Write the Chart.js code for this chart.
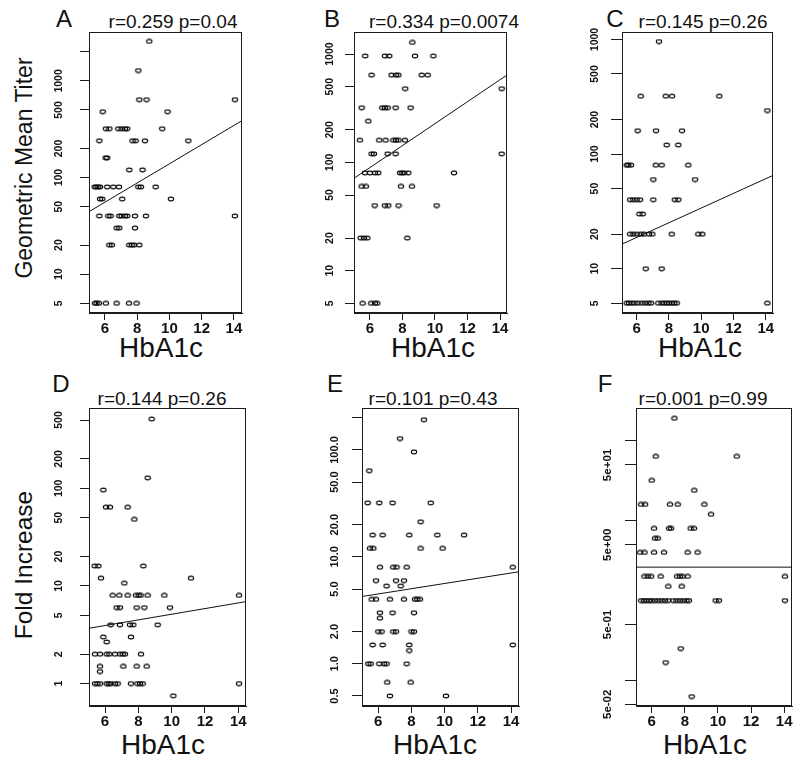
<!DOCTYPE html>
<html><head><meta charset="utf-8">
<script src="https://cdn.jsdelivr.net/npm/chart.js@4.4.1/dist/chart.umd.min.js"></script>
<style>
html,body{margin:0;padding:0;background:#fff;}
body{width:800px;height:775px;overflow:hidden;position:relative;}
canvas{position:absolute;}
.t{position:absolute;transform:translate(-50%,-50%);white-space:nowrap;font-family:'Liberation Sans',Arial,sans-serif;color:#111;line-height:1;}
.rot{transform:translate(-50%,-50%) rotate(-90deg);}
.L{font-size:24px;}
.ti{font-size:19px;}
.xl{font-size:28px;}
.yl{font-size:23px;}
.yl2{font-size:24.5px;}
</style></head><body>
<div class="t L" style="left:64px;top:19px">A</div>
<div class="t L" style="left:332px;top:19px">B</div>
<div class="t L" style="left:615px;top:19px">C</div>
<div class="t L" style="left:61px;top:384px">D</div>
<div class="t L" style="left:335px;top:384px">E</div>
<div class="t L" style="left:605px;top:384px">F</div>
<div class="t ti" style="left:173px;top:21px">r=0.259 p=0.04</div>
<div class="t ti" style="left:444px;top:21px">r=0.334 p=0.0074</div>
<div class="t ti" style="left:703px;top:21px">r=0.145 p=0.26</div>
<div class="t ti" style="left:162px;top:398px">r=0.144 p=0.26</div>
<div class="t ti" style="left:433px;top:398px">r=0.101 p=0.43</div>
<div class="t ti" style="left:703px;top:398px">r=0.001 p=0.99</div>
<div class="t xl" style="left:161px;top:348px">HbA1c</div>
<div class="t xl" style="left:433px;top:348px">HbA1c</div>
<div class="t xl" style="left:700px;top:348px">HbA1c</div>
<div class="t xl" style="left:163px;top:745px">HbA1c</div>
<div class="t xl" style="left:435px;top:745px">HbA1c</div>
<div class="t xl" style="left:705px;top:745px">HbA1c</div>
<div class="t yl rot" style="left:24px;top:168px">Geometric Mean Titer</div>
<div class="t yl2 rot" style="left:24px;top:565px">Fold Increase</div>
<script>
// ---------- data ----------
const xTicks = [6, 8, 10, 12, 14];

const hba1cA = [8.75, 8.07, 8.13, 8.58, 14.06, 5.86, 9.88,
  6.06, 6.27, 6.83, 7.03, 7.24, 7.38, 9.55,
  5.65, 7.71, 7.9, 8.48, 11.17,
  6.04, 6.14, 7.51, 8.33,
  5.36, 5.46, 5.58, 5.69, 6.14, 6.52, 6.87, 8.07, 8.23, 9.14,
  5.69, 5.83, 7.07, 10.09,
  5.65, 6.21, 6.35, 6.89, 7.03, 7.24, 7.38, 7.86, 8.54, 14.06,
  6.72, 6.89, 7.86,
  6.27, 6.43, 7.51, 7.66, 7.8, 8.13,
  5.38, 5.48, 5.63, 6.06, 6.72, 7.49, 7.96];
const gmtA = [2560, 1280, 640, 640, 640, 480, 480,
  320, 320, 320, 320, 320, 320, 320,
  240, 240, 240, 240, 240,
  160, 160, 120, 120,
  80, 80, 80, 80, 80, 80, 80, 80, 80, 80,
  60, 60, 60, 60,
  40, 40, 40, 40, 40, 40, 40, 40, 40, 40,
  30, 30, 30,
  20, 20, 20, 20, 20, 20,
  5, 5, 5, 5, 5, 5, 5];

const hba1cB = [8.61,
  5.71, 6.92, 7.19, 8.77, 9.9,
  6.1, 7.33, 7.6, 7.75, 9.18, 9.55,
  8.17, 14.1,
  5.49, 6.76, 6.92, 7.09, 7.58, 8.5,
  5.9,
  5.38, 6.57, 6.96, 7.44, 7.6, 7.76, 8.15,
  6.1, 6.25, 7.09, 7.58, 14.1,
  5.69, 6.0, 6.31, 6.51, 7.85, 7.99, 8.11, 8.36, 11.17,
  5.49, 5.75, 7.91, 8.58,
  6.29, 6.92, 7.13, 7.76, 10.1,
  5.43, 5.63, 5.84, 8.3,
  5.55, 6.08, 6.31, 6.45];
const gmtB = [1280,
  960, 960, 960, 960, 960,
  640, 640, 640, 640, 640, 640,
  480, 480,
  320, 320, 320, 320, 320, 320,
  240,
  160, 160, 160, 160, 160, 160, 160,
  120, 120, 120, 120, 120,
  80, 80, 80, 80, 80, 80, 80, 80, 80,
  60, 60, 60, 60,
  40, 40, 40, 40, 40,
  20, 20, 20, 20,
  5, 5, 5, 5];

const hba1cC = [7.38,
  6.25, 7.8, 8.19, 11.12,
  14.1,
  6.06, 7.2, 8.81,
  7.86, 8.58,
  5.38, 5.48, 5.65, 7.18, 7.55, 9.2,
  7.03, 9.62,
  5.59, 5.79, 6.0, 6.21, 7.03, 8.36, 8.58,
  6.17, 6.37,
  5.59, 5.79, 6.0, 6.25, 6.45, 6.76, 6.97, 8.17, 9.82, 10.07,
  6.56, 7.55,
  5.38, 5.52, 5.69, 5.86, 6.06, 6.31, 6.52, 6.72, 6.89, 7.34, 7.55, 7.71, 7.86, 8.0, 8.17, 8.33, 8.48, 14.1];
const gmtC = [960,
  320, 320, 320, 320,
  240,
  160, 160, 160,
  120, 120,
  80, 80, 80, 80, 80, 80,
  60, 60,
  40, 40, 40, 40, 40, 40, 40,
  30, 30,
  20, 20, 20, 20, 20, 20, 20, 20, 20, 20,
  10, 10,
  5, 5, 5, 5, 5, 5, 5, 5, 5, 5, 5, 5, 5, 5, 5, 5, 5, 5];

const hba1cD = [8.8, 8.56, 5.9, 6.06, 6.3, 7.36, 7.76, 5.38, 5.6, 8.3, 5.76, 11.16, 7.16,
  6.46, 6.86, 7.36, 7.86, 8.02, 8.14, 8.56, 9.56, 14.04,
  6.7, 6.9, 7.9, 8.36, 9.9,
  6.34, 6.9, 7.5, 7.7, 9.16,
  5.9, 7.56,
  6.1,
  5.4, 5.7, 6.1, 6.26, 6.6, 6.9, 7.06, 7.2, 8.16,
  5.7, 7.1, 7.9, 8.5,
  5.7,
  5.4, 5.54, 5.7, 6.1, 6.22, 6.34, 6.6, 6.76, 7.56, 7.94, 8.1, 8.26, 14.04,
  10.1];
const foldD = [512, 128, 96, 64, 64, 64, 48, 16, 16, 16, 12, 12, 10.67,
  8, 8, 8, 8, 8, 8, 8, 8, 8,
  6, 6, 6, 6, 6,
  4, 4, 4, 4, 4,
  3, 3,
  2.67,
  2, 2, 2, 2, 2, 2, 2, 2, 2,
  1.5, 1.5, 1.5, 1.5,
  1.33,
  1, 1, 1, 1, 1, 1, 1, 1, 1, 1, 1, 1, 1,
  0.75];

const hba1cE = [8.75, 7.31, 8.15, 5.46,
  5.36, 6.06, 6.86, 9.16,
  8.55,
  5.66, 6.26, 7.87, 9.56, 11.17,
  5.5, 5.7, 8.55, 9.88,
  6.1, 6.9, 7.1, 7.71, 14.1,
  5.86, 7.07, 7.55,
  6.5, 7.35,
  5.6, 5.86, 6.7, 7.55, 8.21, 8.35, 8.51,
  6.1, 6.86, 8.15,
  6.1,
  6.0, 6.2, 6.9, 7.07, 8.0, 8.15,
  5.66, 6.26, 7.87, 14.1,
  7.87,
  5.4, 5.54, 6.06, 6.34, 6.5, 7.71,
  6.54, 7.95,
  6.7, 10.08];
const foldE = [192, 128, 96, 64,
  32, 32, 32, 32,
  21.3,
  16, 16, 16, 16, 16,
  12, 12, 12, 12,
  8, 8, 8, 8, 8,
  6, 6, 6,
  5.33, 5.33,
  4, 4, 4, 4, 4, 4, 4,
  3, 3, 3,
  2.67,
  2, 2, 2, 2, 2, 2,
  1.5, 1.5, 1.5, 1.5,
  1.33,
  1, 1, 1, 1, 1, 1,
  0.67, 0.67,
  0.5, 0.5];

const hba1cF = [7.37,
  6.24, 11.13,
  6.0,
  8.57,
  5.36, 5.6, 7.1, 7.57, 9.18,
  9.58,
  6.14, 7.05, 7.17, 8.35, 8.55,
  6.2, 6.36,
  5.3, 5.56, 6.14, 6.74, 8.17, 8.77,
  5.56, 5.76, 5.96, 6.54, 7.53, 7.71, 7.87, 8.17, 14.04,
  7.0, 7.81,
  5.36, 5.52, 5.68, 5.84, 6.0, 6.2, 6.4, 6.6, 6.8, 7.0, 7.3, 7.5, 7.7, 7.9, 8.1, 8.25, 9.86, 10.06, 14.04,
  7.75, 6.84, 8.41];
const foldF = [192,
  64, 64,
  32,
  24,
  16, 16, 16, 16, 16,
  12,
  8, 8, 8, 8, 8,
  6, 6,
  4, 4, 4, 4, 4, 4,
  2, 2, 2, 2, 2, 2, 2, 2, 2,
  1.5, 1.5,
  1, 1, 1, 1, 1, 1, 1, 1, 1, 1, 1, 1, 1, 1, 1, 1, 1, 1, 1,
  0.25, 0.167, 0.0625];

// fitted lines: value at left and right edge of each panel
const fitA = [44.4, 388];
const fitB = [71.3, 641];
const fitC = [16.4, 65.2];
const fitD = [3.69, 6.91];
const fitE = [4.26, 7.26];
const fitF = [2.62, 2.62];

// axis ranges
const xRangeA = [5.01, 14.50], yRangeA = [3.97, 3205];
const xRangeB = [5.02, 14.43], yRangeB = [4.07, 1600];
const xRangeC = [5.09, 14.45], yRangeC = [4.11, 1162];
const xRangeD = [5.04, 14.46], yRangeD = [0.59, 664];
const xRangeE = [5.02, 14.48], yRangeE = [0.403, 247];
const xRangeF = [5.05, 14.47], yRangeF = [0.0476, 259];

// y tick values and labels
const yTicksA = [5, 10, 20, 50, 100, 200, 500, 1000, 2000];
const yLabelsA = ['5', '10', '20', '50', '100', '200', '500', '1000', ''];
const yTicksBC = [5, 10, 20, 50, 100, 200, 500, 1000];
const yLabelsBC = ['5', '10', '20', '50', '100', '200', '500', '1000'];
const yTicksD = [1, 2, 5, 10, 20, 50, 100, 200, 500];
const yLabelsD = ['1', '2', '5', '10', '20', '50', '100', '200', '500'];
const yTicksE = [0.5, 1, 2, 5, 10, 20, 50, 100, 200];
const yLabelsE = ['0.5', '1.0', '2.0', '5.0', '10.0', '20.0', '50.0', '100.0', ''];
const yTicksF = [0.05, 0.1, 0.5, 5, 10, 50, 100];
const yLabelsF = ['5e-02', '', '5e-01', '5e+00', '', '5e+01', ''];

// ---------- layout ----------
const FONT = "'Liberation Sans', Arial, sans-serif";
const YW = 50, PT = 20, PR = 10, XH = 30;
const panels = [
  {box: [89, 32, 242, 313], x: hba1cA, y: gmtA, fit: fitA, xr: xRangeA, yr: yRangeA, yt: yTicksA, yl: yLabelsA, tl: 9, pad: 9, fs: 10.5},
  {box: [354, 32, 507, 313], x: hba1cB, y: gmtB, fit: fitB, xr: xRangeB, yr: yRangeB, yt: yTicksBC, yl: yLabelsBC, tl: 9, pad: 3.5, fs: 10.5},
  {box: [622, 32, 773, 313], x: hba1cC, y: gmtC, fit: fitC, xr: xRangeC, yr: yRangeC, yt: yTicksBC, yl: yLabelsBC, tl: 11, pad: 4, fs: 10.5},
  {box: [89, 408, 246, 706], x: hba1cD, y: foldD, fit: fitD, xr: xRangeD, yr: yRangeD, yt: yTicksD, yl: yLabelsD, tl: 9, pad: 12, fs: 10.5},
  {box: [362, 408, 519, 706], x: hba1cE, y: foldE, fit: fitE, xr: xRangeE, yr: yRangeE, yt: yTicksE, yl: yLabelsE, tl: 10, pad: 3, fs: 11},
  {box: [636, 408, 792, 706], x: hba1cF, y: foldF, fit: fitF, xr: xRangeF, yr: yRangeF, yt: yTicksF, yl: yLabelsF, tl: 11, pad: 1, fs: 11.5}
];

function ring() {
  const c = document.createElement('canvas');
  c.width = 8; c.height = 6;
  const g = c.getContext('2d');
  g.strokeStyle = '#000'; g.lineWidth = 1.1;
  g.beginPath(); g.ellipse(4, 3, 2.7, 1.9, 0, 0, Math.PI * 2); g.stroke();
  return c;
}
const ringImg = ring();

const boxPlugin = {
  id: 'box',
  afterDraw(chart) {
    const a = chart.chartArea, g = chart.ctx;
    g.save();
    g.strokeStyle = '#1a1a1a'; g.lineWidth = 1;
    g.strokeRect(Math.round(a.left) + 0.5, Math.round(a.top) + 0.5,
      Math.round(a.right - a.left) - 1, Math.round(a.bottom - a.top) - 1);
    g.restore();
  }
};

panels.forEach(p => {
  const [L, T, R, B] = p.box;
  const cv = document.createElement('canvas');
  const w = YW + (R - L) + PR, h = PT + (B - T) + XH;
  cv.width = w; cv.height = h;
  cv.style.left = (L - YW) + 'px'; cv.style.top = (T - PT) + 'px';
  cv.style.width = w + 'px'; cv.style.height = h + 'px';
  document.body.appendChild(cv);
  new Chart(cv.getContext('2d'), {
    type: 'scatter',
    data: {
      datasets: [
        {data: p.x.map((v, i) => ({x: v, y: p.y[i]})), pointStyle: ringImg, pointRadius: 3, showLine: false},
        {type: 'line', data: [{x: p.xr[0], y: p.fit[0]}, {x: p.xr[1], y: p.fit[1]}],
          borderColor: '#111', borderWidth: 1, pointRadius: 0, fill: false, tension: 0}
      ]
    },
    options: {
      responsive: false, animation: false, devicePixelRatio: 1, events: [],
      layout: {padding: {top: PT, right: PR, left: 0, bottom: 0}},
      plugins: {legend: {display: false}, tooltip: {enabled: false}, title: {display: false}},
      scales: {
        x: {
          type: 'linear', min: p.xr[0], max: p.xr[1], bounds: 'data',
          afterBuildTicks: s => { s.ticks = xTicks.map(v => ({value: v})); },
          afterFit: s => { s.height = XH; },
          grid: {drawOnChartArea: false, drawTicks: true, tickLength: 7, color: '#1a1a1a', lineWidth: 1},
          border: {display: true, color: '#1a1a1a', width: 1},
          ticks: {autoSkip: false, padding: 0, maxRotation: 0, color: '#111',
            font: {family: FONT, size: 15, weight: 'bold'},
            callback: v => String(v)}
        },
        y: {
          type: 'logarithmic', min: p.yr[0], max: p.yr[1], bounds: 'data',
          afterBuildTicks: s => { s.ticks = p.yt.map(v => ({value: v})); },
          afterFit: s => { s.width = YW; },
          grid: {drawOnChartArea: false, drawTicks: true, tickLength: p.tl, color: '#1a1a1a', lineWidth: 1},
          border: {display: true, color: '#1a1a1a', width: 1},
          ticks: {autoSkip: false, minRotation: 90, maxRotation: 90, crossAlign: 'center',
            padding: p.pad, color: '#111',
            font: {family: FONT, size: p.fs, weight: 'bold'},
            callback: (v, i) => p.yl[i]}
        }
      }
    },
    plugins: [boxPlugin]
  });
});
</script>
</body></html>
